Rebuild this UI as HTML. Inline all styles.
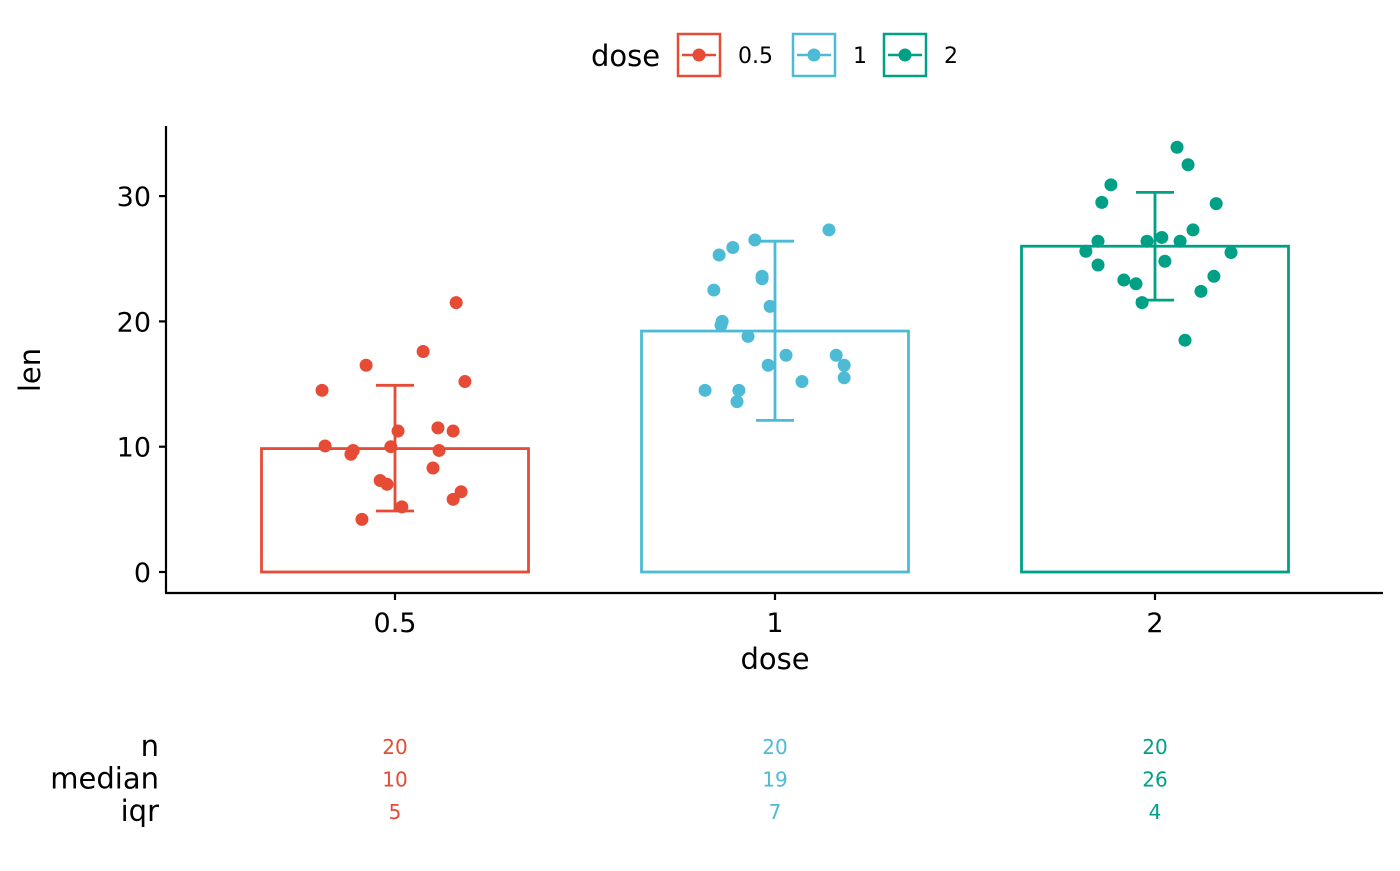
<!DOCTYPE html>
<html><head><meta charset="utf-8"><style>
body{margin:0;background:#fff;}
svg{font-family:"DejaVu Sans","Liberation Sans",sans-serif;}
</style></head><body>
<svg id="chart" width="1400" height="866" viewBox="0 0 1400 866">
<g id="legend">
<text x="591" y="66" font-size="29" fill="#000">dose</text>
</g>
<g id="axes"></g>
<g id="bars"></g>
<g id="points"></g>
<g id="table"></g>
</svg>
<script>
const categories=["0.5","1","2"];
const colors=["#E64B35","#4DBBD5","#00A087"];
const means=[9.85,19.23,26.0];
const errLow=[4.87,12.1,21.7];
const errHigh=[14.9,26.4,30.3];
const yTicks=[0,10,20,30];
const nVals=["20","20","20"];
const medianVals=["10","19","26"];
const iqrVals=["5","7","4"];
const pts0x=[-0.192,-0.184,-0.116,-0.110,-0.087,-0.076,-0.039,-0.021,-0.011,0.008,0.018,0.074,0.100,0.113,0.116,0.153,0.153,0.161,0.174,0.184];
const pts0y=[14.5,10.06,9.4,9.7,4.2,16.5,7.3,7.0,10.0,11.25,5.2,17.6,8.3,11.5,9.7,5.8,11.25,21.5,6.4,15.2];
const pts1x=[-0.184,-0.161,-0.147,-0.142,-0.139,-0.111,-0.100,-0.095,-0.071,-0.053,-0.034,-0.034,-0.018,-0.013,0.029,0.071,0.142,0.161,0.182,0.182];
const pts1y=[14.5,22.5,25.3,19.7,20.0,25.9,13.6,14.5,18.8,26.5,23.4,23.6,16.5,21.2,17.3,15.2,27.3,17.3,16.5,15.5];
const pts2x=[-0.182,-0.150,-0.150,-0.140,-0.116,-0.082,-0.050,-0.034,-0.021,0.018,0.026,0.058,0.066,0.079,0.087,0.100,0.121,0.155,0.161,0.200];
const pts2y=[25.6,26.4,24.5,29.5,30.9,23.3,23.0,21.5,26.4,26.7,24.8,33.9,26.4,18.5,32.5,27.3,22.4,23.6,29.4,25.5];
const ptsX=[pts0x,pts1x,pts2x], ptsY=[pts0y,pts1y,pts2y];

const NS="http://www.w3.org/2000/svg";
const yScale=v=>572-v*12.53;
const xScale=i=>395+i*380;
const bw=267;
function mk(parent,tag,attrs){const e=document.createElementNS(NS,tag);for(const k in attrs)e.setAttribute(k,attrs[k]);parent.appendChild(e);return e;}
const axes=document.getElementById('axes'),bars=document.getElementById('bars'),points=document.getElementById('points'),table=document.getElementById('table'),legend=document.getElementById('legend');

let e=mk(axes,'line',{x1:166,y1:126,x2:166,y2:593,stroke:'#000','stroke-width':2.2});

e=mk(axes,'line',{x1:165,y1:593,x2:1383,y2:593,stroke:'#000','stroke-width':2.2});

yTicks.forEach(t=>{
  let l=mk(axes,'line',{x1:159,x2:166,y1:yScale(t),y2:yScale(t),stroke:'#000','stroke-width':2.2});
  
  let tx=mk(axes,'text',{x:151,y:yScale(t)+10,'text-anchor':'end','font-size':27,fill:'#000'});tx.textContent=t;
  
});
categories.forEach((c,i)=>{
  let l=mk(axes,'line',{x1:xScale(i),x2:xScale(i),y1:593,y2:600,stroke:'#000','stroke-width':2.2});
  
  let tx=mk(axes,'text',{x:xScale(i),y:632,'text-anchor':'middle','font-size':27,fill:'#000'});tx.textContent=c;
  
});
e=mk(axes,'text',{x:775,y:669,'text-anchor':'middle','font-size':29,fill:'#000'});e.textContent='dose';

e=mk(axes,'text',{x:0,y:0,'text-anchor':'middle','font-size':29,fill:'#000',transform:'translate(40,370) rotate(-90)'});e.textContent='len';


categories.forEach((c,i)=>{
  const x=xScale(i),col=colors[i];
  let r=mk(bars,'rect',{x:x-bw/2,y:yScale(means[i]),width:bw,height:yScale(0)-yScale(means[i]),fill:'none',stroke:col,'stroke-width':2.8});
  
  let g=mk(bars,'g',{stroke:col,'stroke-width':2.8});
  
  mk(g,'line',{x1:x,x2:x,y1:yScale(errHigh[i]),y2:yScale(errLow[i])});
  mk(g,'line',{x1:x-19,x2:x+19,y1:yScale(errHigh[i]),y2:yScale(errHigh[i])});
  mk(g,'line',{x1:x-19,x2:x+19,y1:yScale(errLow[i]),y2:yScale(errLow[i])});
  ptsX[i].forEach((dx,j)=>{
    let p=mk(points,'circle',{cx:xScale(i+dx),cy:yScale(ptsY[i][j]),r:6.5,fill:col});
    
  });
  [nVals,medianVals,iqrVals].forEach((arr,k)=>{
    let t=mk(table,'text',{x:x,y:754+k*32.5,'text-anchor':'middle','font-size':20,fill:col});t.textContent=arr[i];
    
  });
});
["n","median","iqr"].forEach((s,k)=>{
  let t=mk(table,'text',{x:159,y:756+k*32.5,'text-anchor':'end','font-size':29,fill:'#000'});t.textContent=s;
  
});
const keyX=[678,793,884];
categories.forEach((c,i)=>{
  let g=mk(legend,'g',{});
  
  mk(g,'rect',{x:keyX[i],y:34,width:42,height:42,fill:'none',stroke:colors[i],'stroke-width':2.5});
  mk(g,'line',{x1:keyX[i]+4,x2:keyX[i]+38,y1:55,y2:55,stroke:colors[i],'stroke-width':2.5});
  mk(g,'circle',{cx:keyX[i]+21,cy:55,r:6.5,fill:colors[i]});
  let t=mk(g,'text',{x:keyX[i]+60,y:63,'font-size':22,fill:'#000'});t.textContent=c;
});
</script>
</body></html>
